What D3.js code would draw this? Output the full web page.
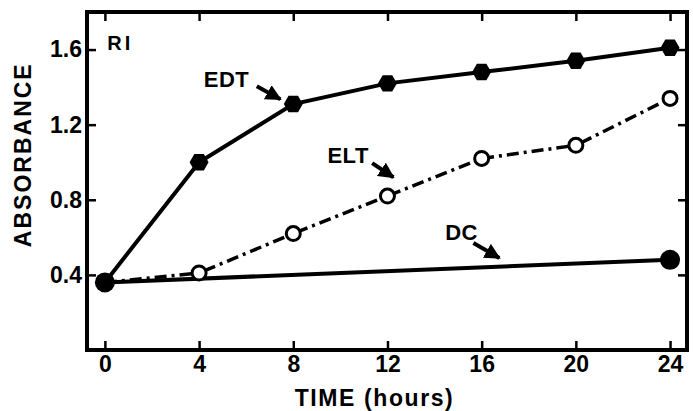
<!DOCTYPE html>
<html>
<head>
<meta charset="utf-8">
<script src="https://cdn.jsdelivr.net/npm/d3@7"></script>
<style>
  body { margin: 0; background: #fff; }
  text { font-family: "Liberation Sans", Arial, Helvetica, sans-serif; font-weight: bold; fill: #000; }
</style>
</head>
<body>
<svg id="chart"></svg>
<script>
// data
const hours = [0, 4, 8, 12, 16, 20, 24];
const edtValues = [0.36, 1.00, 1.31, 1.42, 1.48, 1.54, 1.61];
const eltValues = [0.36, 0.41, 0.62, 0.82, 1.02, 1.09, 1.34];
const dcHours = [0, 24];
const dcValues = [0.36, 0.48];
const xTicks = [0, 4, 8, 12, 16, 20, 24];
const yTicks = [0.4, 0.8, 1.2, 1.6];
const panelLabel = 'RI';
const xTitle = 'TIME (hours)';
const yTitle = 'ABSORBANCE';

const config = {
    width: 693,
    height: 411,
    margin: {top: 12, right: 6, bottom: 61, left: 87}
};
const width = config.width - config.margin.left - config.margin.right;
const height = config.height - config.margin.top - config.margin.bottom;

const svg = d3.select('#chart')
    .attr('width', config.width)
    .attr('height', config.height);

const chart = svg.append('g')
    .attr('transform', `translate(${config.margin.left},${config.margin.top})`);

const xScale = d3.scaleLinear().domain([-0.76, 24.72]).range([0, width]);
const yScale = d3.scaleLinear().domain([0, 1.8]).range([height, 0]);

// axes, ticks point inwards on every side
const xAxis = d3.axisBottom(xScale).tickValues(xTicks).tickSize(-9).tickPadding(6).tickFormat(d3.format('d'));
const yAxis = d3.axisLeft(yScale).tickValues(yTicks).tickSize(-9).tickPadding(5).tickFormat(d3.format('.1f'));
const xTop = d3.axisTop(xScale).tickValues(xTicks).tickSize(-9).tickFormat('');
const yRight = d3.axisRight(yScale).tickValues(yTicks).tickSize(-9).tickFormat('');

function styleAxis(g) {
    g.select('.domain').remove();
    g.selectAll('.tick line').attr('stroke', '#000').attr('stroke-width', 2.5);
    g.selectAll('.tick text').attr('font-size', 23).attr('fill', '#000')
        .attr('font-family', '"Liberation Sans", Arial, sans-serif').attr('font-weight', 'bold');
}

chart.append('g').attr('transform', `translate(0,${height})`).call(xAxis).call(styleAxis);
chart.append('g').call(yAxis).call(styleAxis);
chart.append('g').call(xTop).call(styleAxis);
chart.append('g').attr('transform', `translate(${width},0)`).call(yRight).call(styleAxis);

// frame
chart.append('rect')
    .attr('width', width)
    .attr('height', height)
    .attr('fill', 'none')
    .attr('stroke', '#000')
    .attr('stroke-width', 4);

// axis titles
chart.append('text')
    .attr('x', xScale(11.45))
    .attr('y', height + 56)
    .attr('text-anchor', 'middle')
    .attr('font-size', 23)
    .attr('letter-spacing', 1.6)
    .text(xTitle);

svg.append('text')
    .attr('transform', `translate(31,${config.margin.top + yScale(1.04)}) rotate(-90)`)
    .attr('text-anchor', 'middle')
    .attr('font-size', 23)
    .attr('letter-spacing', 2)
    .text(yTitle);

const line = d3.line().x(d => xScale(d[0])).y(d => yScale(d[1]));
const edt = hours.map((h, i) => [h, edtValues[i]]);
const elt = hours.map((h, i) => [h, eltValues[i]]);
const dc = dcHours.map((h, i) => [h, dcValues[i]]);

chart.append('path').datum(dc).attr('d', line)
    .attr('fill', 'none').attr('stroke', '#000').attr('stroke-width', 4);

chart.append('path').datum(elt).attr('d', line)
    .attr('fill', 'none').attr('stroke', '#000').attr('stroke-width', 3.5)
    .attr('stroke-dasharray', '12,5,3,5');

chart.append('path').datum(edt).attr('d', line)
    .attr('fill', 'none').attr('stroke', '#000').attr('stroke-width', 4);

// markers
const hexagon = r => d3.range(6).map(k => {
    const a = k * Math.PI / 3;
    return [r * Math.cos(a), r * Math.sin(a)];
});

chart.selectAll('.elt-dot')
    .data(elt.slice(1))
    .join('circle')
    .attr('class', 'elt-dot')
    .attr('cx', d => xScale(d[0]))
    .attr('cy', d => yScale(d[1]))
    .attr('r', 7)
    .attr('fill', '#fff')
    .attr('stroke', '#000')
    .attr('stroke-width', 3);

chart.selectAll('.edt-dot')
    .data(edt.slice(1))
    .join('polygon')
    .attr('class', 'edt-dot')
    .attr('points', hexagon(9.5).join(' '))
    .attr('transform', d => `translate(${xScale(d[0])},${yScale(d[1])})`)
    .attr('fill', '#000');

chart.selectAll('.dc-dot')
    .data(dc)
    .join('circle')
    .attr('class', 'dc-dot')
    .attr('cx', d => xScale(d[0]))
    .attr('cy', d => yScale(d[1]))
    .attr('r', 10)
    .attr('fill', '#000');

// labels with arrows
svg.append('defs').append('marker')
    .attr('id', 'head')
    .attr('viewBox', '0 0 10 10')
    .attr('refX', 9).attr('refY', 5)
    .attr('markerWidth', 4).attr('markerHeight', 4)
    .attr('orient', 'auto')
    .append('path').attr('d', 'M0,0L10,5L0,10Z').attr('fill', '#000');

const notes = [
    {text: 'EDT', tx: 4.2, ty: 1.40, from: [6.45, 1.405], to: [7.45, 1.335]},
    {text: 'ELT', tx: 9.45, ty: 0.995, from: [11.35, 0.995], to: [12.25, 0.92]},
    {text: 'DC', tx: 14.45, ty: 0.585, from: [15.65, 0.57], to: [16.75, 0.49]}
];

notes.forEach(n => {
    chart.append('text')
        .attr('x', xScale(n.tx))
        .attr('y', yScale(n.ty))
        .attr('font-size', 22)
        .attr('letter-spacing', 0.5)
        .text(n.text);
    chart.append('line')
        .attr('x1', xScale(n.from[0])).attr('y1', yScale(n.from[1]))
        .attr('x2', xScale(n.to[0])).attr('y2', yScale(n.to[1]))
        .attr('stroke', '#000').attr('stroke-width', 4)
        .attr('marker-end', 'url(#head)');
});

chart.append('text')
    .attr('x', xScale(0.1))
    .attr('y', yScale(1.6))
    .attr('font-size', 20)
    .attr('letter-spacing', 3)
    .text(panelLabel);
</script>
</body>
</html>
